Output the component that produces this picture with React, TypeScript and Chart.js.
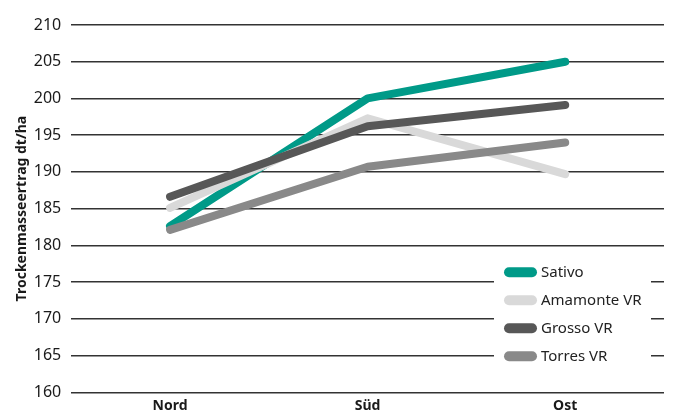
import React, { useEffect, useRef } from "react";
import { Chart, registerables } from "chart.js";

Chart.register(...registerables);

const categories = ["Nord", "Süd", "Ost"];
const sativo = [182.6, 200.0, 205.0];
const amamonte = [185.1, 197.3, 189.7];
const grosso = [186.6, 196.2, 199.1];
const torres = [182.1, 190.7, 194.0];
const seriesNames = ["Sativo", "Amamonte VR", "Grosso VR", "Torres VR"];
const seriesColors = ["#009a88", "#d9d9d9", "#575757", "#898989"];
const yTicks = [160, 165, 170, 175, 180, 185, 190, 195, 200, 205, 210];
const yTitle = "Trockenmasseertrag dt/ha";

const FONT = "'Noto Sans', sans-serif";

const legendPlugin = {
  id: "boxLegend",
  afterDraw(chart: any) {
    const ctx = chart.ctx;
    const a = chart.chartArea;
    const left = a.right - 170;
    const right = a.right - 13;
    const top = a.bottom - 144;
    const bottom = a.bottom - 7;
    ctx.save();
    ctx.fillStyle = "#ffffff";
    ctx.fillRect(left, top, right - left, bottom - top);
    const items = chart.data.datasets;
    const swX = left + 15;
    const rowTop = top + 24;
    items.forEach((ds: any, i: number) => {
      const y = rowTop + i * 28;
      ctx.strokeStyle = ds.borderColor;
      ctx.lineWidth = 10;
      ctx.lineCap = "round";
      ctx.beginPath();
      ctx.moveTo(swX, y);
      ctx.lineTo(swX + 23, y);
      ctx.stroke();
      ctx.fillStyle = "#222222";
      ctx.font = `15px ${FONT}`;
      ctx.textBaseline = "middle";
      ctx.textAlign = "left";
      ctx.fillText(ds.label, swX + 32, y + 1);
    });
    ctx.restore();
  },
};

export default function App() {
  const ref = useRef<HTMLCanvasElement | null>(null);
  useEffect(() => {
    if (!ref.current) return;
    const values = [sativo, amamonte, grosso, torres];
    const orders = [3, 2, 1, 0];
    const chart = new Chart(ref.current, {
      type: "line",
      data: {
        labels: categories,
        datasets: values.map((v, i) => ({
          label: seriesNames[i],
          data: v,
          borderColor: seriesColors[i],
          backgroundColor: seriesColors[i],
          borderWidth: 8,
          borderCapStyle: "round",
          borderJoinStyle: "round",
          pointRadius: 0,
          tension: 0,
          order: orders[i],
        })),
      },
      options: {
        animation: false,
        responsive: true,
        maintainAspectRatio: false,
        layout: { padding: { top: 25, right: 10, left: 14, bottom: 0 } },
        plugins: {
          legend: { display: false },
          tooltip: { enabled: false },
        },
        scales: {
          x: {
            offset: true,
            grid: { display: false, drawTicks: false },
            border: { display: false },
            ticks: {
              color: "#1a1a1a",
              font: { family: FONT, size: 14, weight: "bold" },
              padding: 5,
            },
          },
          y: {
            min: 160,
            max: 210,
            afterBuildTicks: (scale: any) => {
              scale.ticks = yTicks.map((v) => ({ value: v }));
            },
            grid: { color: "#333333", lineWidth: 1.4, drawTicks: false },
            border: { display: false },
            ticks: {
              color: "#1a1a1a",
              font: { family: FONT, size: 16 },
              padding: 10,
            },
            title: {
              display: true,
              text: yTitle,
              color: "#1a1a1a",
              font: { family: FONT, size: 14, weight: "bold" },
              padding: { top: 0, bottom: -7 },
            },
          },
        },
      },
      plugins: [legendPlugin],
    } as any);
    return () => chart.destroy();
  }, []);
  return (
    <div style={{ position: "fixed", left: 0, top: 0, width: 674, height: 419, background: "#fff" }}>
      <canvas ref={ref} />
    </div>
  );
}
